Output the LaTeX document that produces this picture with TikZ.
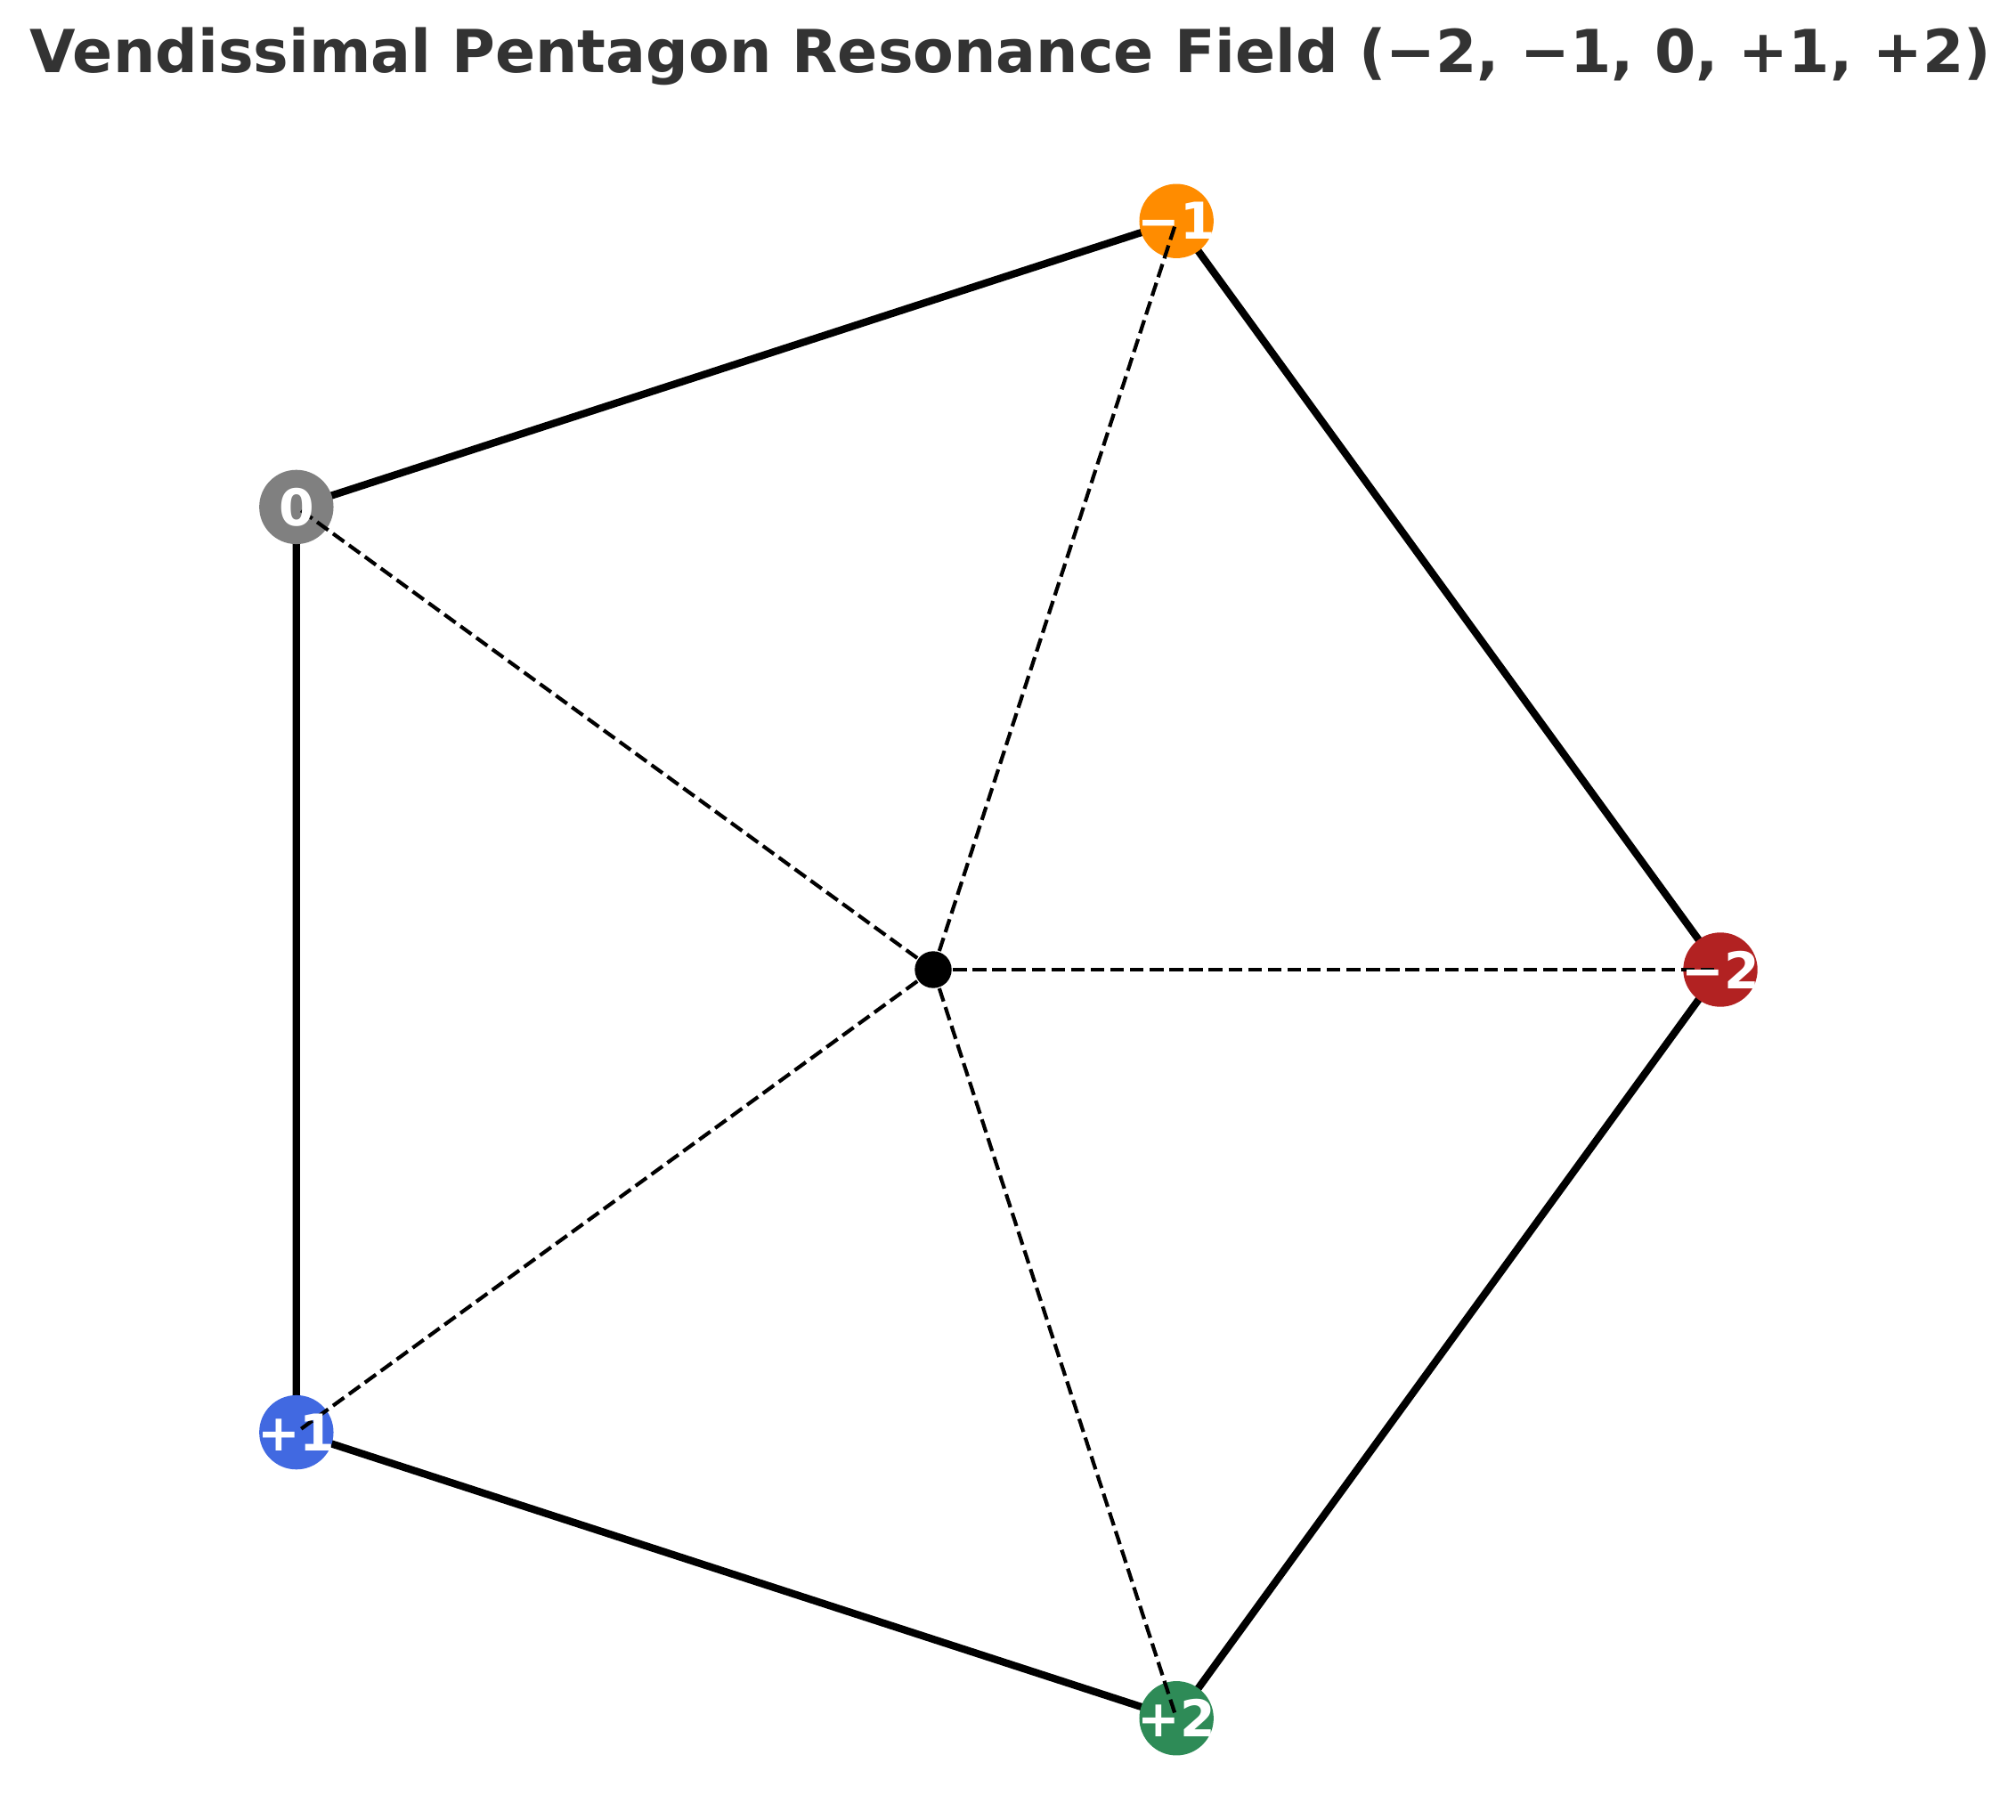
\documentclass[tikz,border=0pt]{standalone}
\usepackage{fontspec}
\setmainfont{DejaVu Sans}
\usepackage{xcolor}
\usepackage{tikz}
\usetikzlibrary{calc}
\definecolor{titlegray}{HTML}{333333}
\definecolor{colM2}{HTML}{B22222}
\definecolor{colM1}{HTML}{FF8C00}
\definecolor{colZ}{HTML}{808080}
\definecolor{colP1}{HTML}{4169E1}
\definecolor{colP2}{HTML}{2E8B57}
\tikzstyle{edge} = [line width=0.083cm,black,line join=round]
\tikzstyle{spoke} = [line width=0.042cm,black,dash pattern=on 0.154cm off 0.067cm]

\begin{document}
\begin{tikzpicture}
	\tikzstyle{vertex}=[circle,inner sep=0pt,minimum size=0.834cm]
	\tikzstyle{tag}=[text=white,inner sep=0pt,font=\fontsize{16.2}{19}\selectfont\bfseries]
	\useasboundingbox (0,0) rectangle (22.64,20.43);
	% centre and corners of the pentagon
	\coordinate (C) at (10.48,9.54);
	\coordinate (M2) at ($(C)+(0:8.84)$);
	\coordinate (M1) at ($(C)+(72:8.84)$);
	\coordinate (Z)  at ($(C)+(144:8.84)$);
	\coordinate (P1) at ($(C)+(216:8.84)$);
	\coordinate (P2) at ($(C)+(288:8.84)$);
	\draw[edge] (M2) -- (M1) -- (Z) -- (P1) -- (P2) -- cycle;
	\node[vertex,fill=colM2] (vM2) at (M2) {};
	\node[vertex,fill=colM1] (vM1) at (M1) {};
	\node[vertex,fill=colZ]  (vZ)  at (Z)  {};
	\node[vertex,fill=colP1] (vP1) at (P1) {};
	\node[vertex,fill=colP2] (vP2) at (P2) {};
	\foreach \v in {M2,M1,Z,P1,P2}
		\draw[spoke] (C) -- (v\v.center);
	\node[circle,fill=black,inner sep=0pt,minimum size=0.414cm] (hub) at (C) {};
	\node[tag] (tM2) at (vM2) {−2};
	\node[tag] (tM1) at (vM1) {−1};
	\node[tag] (tZ)  at (vZ)  {0};
	\node[tag] (tP1) at (vP1) {+1};
	\node[tag] (tP2) at (vP2) {+2};
	\node[anchor=base,text=titlegray,font=\fontsize{18.95}{23}\selectfont\bfseries] (title) at (11.35,19.61) {Vendissimal Pentagon Resonance Field (−2, −1, 0, +1, +2)};
	%\draw[red] (0,0) rectangle (22.64,20.43);
\end{tikzpicture}
\end{document}
